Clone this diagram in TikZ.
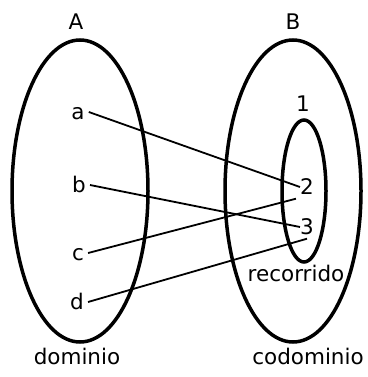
\documentclass[tikz,border=0pt]{standalone}
\usepackage{fontspec}
\setmainfont{DejaVu Sans}
\begin{document}
\begin{tikzpicture}[x=1pt,y=-1pt,
  lbl/.style={font=\fontsize{21.5}{21.5}\selectfont, inner sep=1pt, text height=15pt, text depth=0pt},
  setline/.style={line width=3.5pt},
  map/.style={line width=1.8pt}]
\useasboundingbox (0,0) rectangle (367,377);
\draw[setline] (80,191) ellipse [x radius=68, y radius=151];
\draw[setline] (293,191) ellipse [x radius=68, y radius=151];
\draw[setline] (304,191) ellipse [x radius=22, y radius=71];
\node[lbl] (A) at (76,22) {A};
\node[lbl] (B) at (293,22) {B};
\node[lbl] (a) at (78,112) {a};
\node[lbl] (b) at (79,185) {b};
\node[lbl] (c) at (78,253) {c};
\node[lbl] (d) at (77,302) {d};
\node[lbl] (n1) at (303,104) {1};
\node[lbl] (n2) at (307,187) {2};
\node[lbl] (n3) at (307,227) {3};
\node[lbl] (rec) at (296,274) {recorrido};
\node[lbl] (dom) at (77,357) {dominio};
\node[lbl] (cod) at (308,357) {codominio};
\draw[map] ([xshift=3pt]a.east) -- ([xshift=1pt]n2.west);
\draw[map] ([xshift=3pt]b.east) -- ([xshift=1pt]n3.west);
\draw[map] ([xshift=3pt]c.east) -- ([shift={(-3pt,-3pt)}]n2.south west);
\draw[map] ([xshift=3pt]d.east) -- ([yshift=-3pt]n3.south);
\end{tikzpicture}
\end{document}
